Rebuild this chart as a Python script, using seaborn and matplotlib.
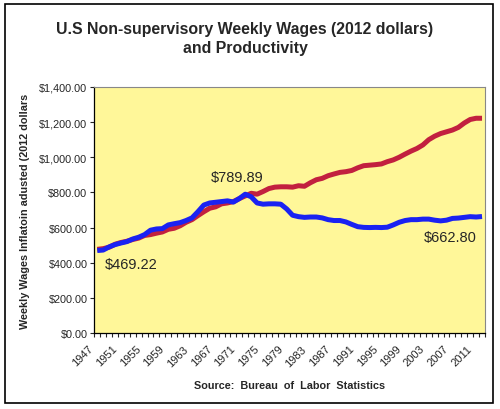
import numpy as np
import pandas as pd
import matplotlib
matplotlib.use("Agg")
import matplotlib.pyplot as plt
import matplotlib.ticker as mticker
import matplotlib.transforms as mtransforms
from matplotlib.patches import Rectangle
import seaborn as sns

# --- data ---
years = list(range(1947, 2013))

wages = [
    469.22, 472, 490, 503, 512, 520, 535, 545, 560, 585,
    592, 594, 615, 622, 628, 640, 655, 690, 728, 740,
    744, 748, 752, 745, 765, 789.89, 775, 740, 733, 735,
    735, 733, 706, 670, 662, 658, 660, 660, 655, 645,
    640, 640, 632, 618, 605, 601, 600, 601, 600, 602,
    615, 630, 640, 645, 645, 648, 648, 642, 638, 642,
    652, 654, 658, 662, 660, 662.80,
]

productivity = [
    476, 480, 488, 505, 515, 522, 532, 540, 555, 560,
    568, 575, 590, 596, 610, 630, 645, 668, 690, 710,
    718, 735, 740, 748, 765, 780, 795, 790, 805, 822,
    830, 832, 832, 830, 838, 835, 855, 872, 880, 895,
    905, 914, 918, 925, 940, 952, 955, 958, 962, 975,
    985, 1000, 1018, 1035, 1050, 1070, 1100, 1120, 1135, 1145,
    1155, 1170, 1195, 1215, 1222, 1222,
]

label_years = list(range(1947, 2013, 4))
y_ticks = [0, 200, 400, 600, 800, 1000, 1200, 1400]

df = pd.DataFrame({"year": years, "wages": wages, "productivity": productivity})

# --- styling ---
sns.set_style("white")
plt.rcParams["font.family"] = ["Liberation Sans", "DejaVu Sans"]

fig = plt.figure(figsize=(5, 4.1), dpi=100)
ax = fig.add_axes([0.1886, 0.1854, 0.7814, 0.6000])
ax.set_facecolor("#FFF799")

sns.lineplot(data=df, x="year", y="productivity", ax=ax, color="#C2203F",
             linewidth=3.6, solid_capstyle="butt")
sns.lineplot(data=df, x="year", y="wages", ax=ax, color="#1A22F2",
             linewidth=3.6, solid_capstyle="butt")

ax.set_xlim(years[0] - 0.5, years[-1] + 0.5)
ax.set_ylim(0, 1400)

ax.set_yticks(y_ticks)
ax.yaxis.set_major_formatter(mticker.FuncFormatter(lambda v, p: f"${v:,.2f}"))
ax.tick_params(axis="y", labelsize=7.8, length=3, width=0.8, direction="out",
               left=True, pad=2)

ax.set_xticks(label_years)
ax.set_xticklabels([str(y) for y in label_years], rotation=45, ha="right",
                   rotation_mode="anchor")
ax.set_xticks(np.arange(years[0] - 0.5, years[-1] + 1.0, 1.0), minor=True)
ax.tick_params(axis="x", which="major", length=0, labelsize=8.0, pad=6)
ax.tick_params(axis="x", which="minor", length=3, width=0.8, direction="out",
               bottom=True)
# nudge the slanted year labels left, like the original
shift = mtransforms.ScaledTranslation(-0.09, -0.02, fig.dpi_scale_trans)
for lbl in ax.get_xticklabels():
    lbl.set_transform(lbl.get_transform() + shift)

ax.set_xlabel("Source:  Bureau  of  Labor  Statistics", fontsize=7.8,
              fontweight="bold", labelpad=9)
ax.set_ylabel("Weekly Wages Inflatoin adusted (2012 dollars", fontsize=7.8,
              fontweight="bold", labelpad=7)

for side in ["top", "right"]:
    ax.spines[side].set_color("#888888")
    ax.spines[side].set_linewidth(0.8)
for side in ["left", "bottom"]:
    ax.spines[side].set_color("black")
    ax.spines[side].set_linewidth(0.9)

# value callouts
ax.text(years[0] + 1.2, 390, "$469.22", fontsize=10.5, va="center")
ax.text(1970.7, 888, "$789.89", fontsize=10.5, ha="center", va="center")
ax.text(2006.6, 546, "$662.80", fontsize=10.5, ha="center", va="center")

fig.text(0.49, 0.905, "U.S Non-supervisory Weekly Wages (2012 dollars)\nand Productivity",
         ha="center", va="center", fontsize=11.4, fontweight="bold",
         linespacing=1.3)

# outer frame around the whole chart
fig.patches.append(Rectangle((5 / 500, 6 / 410), 488 / 500, 399 / 410,
                             transform=fig.transFigure, fill=False,
                             edgecolor="black", linewidth=1.2))

fig.savefig("out.png", dpi=100, facecolor="white")
